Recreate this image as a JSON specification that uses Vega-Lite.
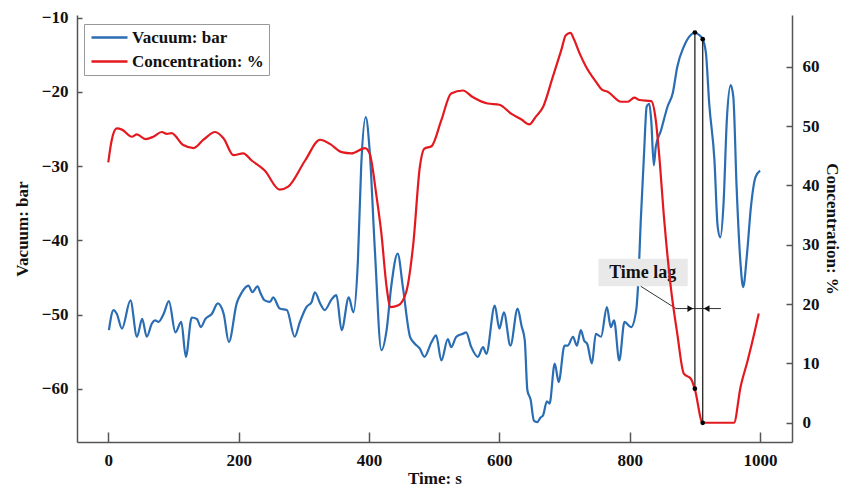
{
  "$schema": "https://vega.github.io/schema/vega-lite/v6.json",
  "width": 715,
  "height": 427,
  "autosize": "none",
  "padding": {"left": 77, "top": 15, "right": 49, "bottom": 44},
  "background": "white",
  "config": {
    "view": {"stroke": null},
    "axis": {
      "grid": false,
      "domainColor": "#555",
      "domainWidth": 1.5,
      "tickColor": "#555",
      "tickWidth": 1.5,
      "labelFont": "Liberation Serif",
      "labelFontWeight": "bold",
      "labelFontSize": 17,
      "labelColor": "#111",
      "titleFont": "Liberation Serif",
      "titleFontWeight": "bold",
      "titleFontSize": 17,
      "titleColor": "#111"
    },
    "legend": {
      "labelFont": "Liberation Serif",
      "labelFontWeight": "bold",
      "labelFontSize": 17,
      "labelColor": "#111"
    }
  },
  "datasets": {
    "vac": [
      {"t": 1, "v": -52.1}, {"t": 8, "v": -49.4}, {"t": 13, "v": -49.9}, {"t": 21, "v": -51.9},
      {"t": 34, "v": -48.1}, {"t": 44, "v": -53.0}, {"t": 52, "v": -50.6}, {"t": 59, "v": -53.0},
      {"t": 67, "v": -51.2}, {"t": 72, "v": -50.8}, {"t": 77, "v": -51.0}, {"t": 85, "v": -49.9},
      {"t": 93, "v": -48.2}, {"t": 103, "v": -52.4}, {"t": 112, "v": -51.0}, {"t": 119, "v": -55.7},
      {"t": 128, "v": -50.4}, {"t": 136, "v": -50.6}, {"t": 142, "v": -51.7}, {"t": 149, "v": -50.6},
      {"t": 159, "v": -49.9}, {"t": 168, "v": -48.5}, {"t": 177, "v": -49.9}, {"t": 185, "v": -53.7},
      {"t": 197, "v": -48.5}, {"t": 205, "v": -47.0}, {"t": 215, "v": -46.1}, {"t": 221, "v": -47.0},
      {"t": 229, "v": -46.2}, {"t": 233, "v": -47.0}, {"t": 240, "v": -48.1}, {"t": 248, "v": -48.3},
      {"t": 253, "v": -47.7}, {"t": 263, "v": -49.2}, {"t": 274, "v": -49.4}, {"t": 286, "v": -53.0},
      {"t": 294, "v": -51.0}, {"t": 304, "v": -49.0}, {"t": 312, "v": -48.3}, {"t": 317, "v": -47.0},
      {"t": 325, "v": -48.5}, {"t": 332, "v": -49.4}, {"t": 343, "v": -47.9}, {"t": 350, "v": -47.4},
      {"t": 358, "v": -52.1}, {"t": 369, "v": -47.7}, {"t": 376, "v": -49.7}, {"t": 383, "v": -42.7},
      {"t": 388, "v": -30.1}, {"t": 395, "v": -23.4}, {"t": 401, "v": -27.9}, {"t": 409, "v": -41.3},
      {"t": 419, "v": -54.8}, {"t": 427, "v": -52.1}, {"t": 434, "v": -46.3}, {"t": 444, "v": -41.8},
      {"t": 452, "v": -46.3}, {"t": 463, "v": -53.0}, {"t": 470, "v": -53.9}, {"t": 478, "v": -54.6},
      {"t": 485, "v": -55.7}, {"t": 496, "v": -53.7}, {"t": 503, "v": -52.8}, {"t": 511, "v": -56.2},
      {"t": 521, "v": -53.3}, {"t": 526, "v": -54.4}, {"t": 534, "v": -53.0}, {"t": 544, "v": -52.6},
      {"t": 549, "v": -52.4}, {"t": 557, "v": -54.4}, {"t": 567, "v": -55.7}, {"t": 575, "v": -54.4},
      {"t": 580, "v": -55.3}, {"t": 593, "v": -48.8}, {"t": 600, "v": -51.9}, {"t": 607, "v": -49.7},
      {"t": 617, "v": -54.2}, {"t": 628, "v": -49.2}, {"t": 634, "v": -51.5}, {"t": 639, "v": -53.5},
      {"t": 643, "v": -60.2}, {"t": 648, "v": -61.5}, {"t": 653, "v": -64.3}, {"t": 658, "v": -64.5},
      {"t": 663, "v": -63.9}, {"t": 667, "v": -63.6}, {"t": 673, "v": -61.7}, {"t": 677, "v": -62.0},
      {"t": 685, "v": -56.6}, {"t": 691, "v": -59.1}, {"t": 700, "v": -54.2}, {"t": 705, "v": -54.2},
      {"t": 713, "v": -53.0}, {"t": 719, "v": -54.2}, {"t": 725, "v": -52.1}, {"t": 730, "v": -53.5},
      {"t": 735, "v": -54.0}, {"t": 742, "v": -56.6}, {"t": 748, "v": -52.6}, {"t": 756, "v": -53.0},
      {"t": 765, "v": -49.0}, {"t": 771, "v": -51.7}, {"t": 776, "v": -50.8}, {"t": 784, "v": -56.2},
      {"t": 792, "v": -51.0}, {"t": 802, "v": -51.7}, {"t": 810, "v": -49.4}, {"t": 813, "v": -45.8},
      {"t": 817, "v": -37.3}, {"t": 822, "v": -28.3}, {"t": 826, "v": -22.0}, {"t": 830, "v": -21.6},
      {"t": 833, "v": -23.8}, {"t": 837, "v": -29.9}, {"t": 840, "v": -27.4}, {"t": 848, "v": -25.2},
      {"t": 858, "v": -22.0}, {"t": 866, "v": -20.2}, {"t": 873, "v": -16.6}, {"t": 883, "v": -13.9},
      {"t": 894, "v": -12.3}, {"t": 900, "v": -12.0}, {"t": 906, "v": -12.3}, {"t": 912, "v": -12.9},
      {"t": 917, "v": -14.8}, {"t": 922, "v": -21.6}, {"t": 930, "v": -29.2}, {"t": 935, "v": -38.2},
      {"t": 939, "v": -39.6}, {"t": 944, "v": -35.0}, {"t": 949, "v": -23.8}, {"t": 955, "v": -19.1},
      {"t": 959, "v": -20.7}, {"t": 964, "v": -32.8}, {"t": 970, "v": -43.1}, {"t": 974, "v": -46.3},
      {"t": 980, "v": -41.8}, {"t": 986, "v": -35.5}, {"t": 993, "v": -31.5}, {"t": 1000, "v": -30.6}
    ],
    "conc": [
      {"t": 0, "c": 43.9}, {"t": 5, "c": 47.5}, {"t": 13, "c": 49.6}, {"t": 21, "c": 49.4},
      {"t": 36, "c": 48.2}, {"t": 44, "c": 48.6}, {"t": 57, "c": 47.8}, {"t": 69, "c": 48.2},
      {"t": 82, "c": 49.0}, {"t": 90, "c": 48.7}, {"t": 97, "c": 48.8}, {"t": 115, "c": 46.8},
      {"t": 131, "c": 46.3}, {"t": 146, "c": 47.7}, {"t": 164, "c": 49.0}, {"t": 177, "c": 47.9},
      {"t": 192, "c": 45.1}, {"t": 207, "c": 45.4}, {"t": 220, "c": 44.2}, {"t": 240, "c": 42.5},
      {"t": 263, "c": 39.3}, {"t": 276, "c": 39.8}, {"t": 302, "c": 44.2}, {"t": 325, "c": 47.7},
      {"t": 340, "c": 47.0}, {"t": 358, "c": 45.6}, {"t": 373, "c": 45.4}, {"t": 394, "c": 46.3},
      {"t": 401, "c": 45.4}, {"t": 411, "c": 38.6}, {"t": 419, "c": 31.9}, {"t": 427, "c": 22.9},
      {"t": 433, "c": 19.5}, {"t": 445, "c": 19.8}, {"t": 457, "c": 22.0}, {"t": 468, "c": 30.2},
      {"t": 478, "c": 43.1}, {"t": 485, "c": 46.2}, {"t": 496, "c": 46.6}, {"t": 511, "c": 51.0},
      {"t": 526, "c": 55.5}, {"t": 544, "c": 56.0}, {"t": 559, "c": 54.9}, {"t": 582, "c": 53.8},
      {"t": 600, "c": 53.6}, {"t": 618, "c": 52.1}, {"t": 634, "c": 51.1}, {"t": 646, "c": 50.3},
      {"t": 656, "c": 51.6}, {"t": 667, "c": 53.2}, {"t": 682, "c": 58.3}, {"t": 695, "c": 62.8},
      {"t": 702, "c": 65.3}, {"t": 709, "c": 65.7}, {"t": 715, "c": 64.5}, {"t": 723, "c": 62.3},
      {"t": 733, "c": 60.0}, {"t": 748, "c": 57.5}, {"t": 758, "c": 56.1}, {"t": 766, "c": 55.8},
      {"t": 787, "c": 54.1}, {"t": 797, "c": 54.1}, {"t": 807, "c": 54.8}, {"t": 815, "c": 54.4},
      {"t": 833, "c": 54.2}, {"t": 840, "c": 51.0}, {"t": 845, "c": 45.4}, {"t": 853, "c": 34.1},
      {"t": 863, "c": 22.9}, {"t": 873, "c": 15.0}, {"t": 883, "c": 8.3}, {"t": 894, "c": 7.4},
      {"t": 900, "c": 5.6}, {"t": 912, "c": 0.0}, {"t": 960, "c": 0.0}, {"t": 970, "c": 6.0},
      {"t": 981, "c": 10.5}, {"t": 991, "c": 15.0}, {"t": 998, "c": 18.4}
    ],
    "vlines": [
      {"t": 900, "v": -12.0, "v2": -60.0},
      {"t": 912, "v": -12.9, "v2": -64.6}
    ],
    "dots": [
      {"t": 900, "v": -12.0}, {"t": 912, "v": -12.9}, {"t": 900, "v": -60.0}, {"t": 912, "v": -64.6}
    ],
    "box": [{"t": 752, "t2": 889, "v": -42.5, "v2": -46.2, "label": "Time lag", "tm": 820, "vm": -44.35}],
    "leader": [{"t": 817, "t2": 871, "v": -46.2, "v2": -49.2}],
    "hline": [{"t": 871, "t2": 940, "v": -49.2}],
    "arrows": [{"t": 893, "v": -49.2, "shape": "triangle-right"}, {"t": 918, "v": -49.2, "shape": "triangle-left"}]
  },
  "layer": [
    {
      "layer": [
        {
          "data": {"name": "vac"},
          "mark": {"type": "line", "strokeWidth": 2.2, "interpolate": "monotone"},
          "encoding": {
            "x": {"field": "t", "type": "quantitative", "scale": {"domain": [-48, 1049], "nice": false, "zero": false},
                  "axis": {"values": [0, 200, 400, 600, 800, 1000], "format": "d", "title": "Time: s", "tickSize": -10, "labelPadding": 20, "titlePadding": 2}},
            "y": {"field": "v", "type": "quantitative", "scale": {"domain": [-67.18, -9.64], "nice": false, "zero": false},
                  "axis": {"orient": "left", "values": [-60, -50, -40, -30, -20, -10], "title": "Vacuum: bar", "tickSize": -5, "labelPadding": 14, "titlePadding": 10}},
            "color": {"datum": "Vacuum: bar", "type": "nominal",
                      "scale": {"domain": ["Vacuum: bar", "Concentration: %"], "range": ["#2a6db3", "#e3191f"]},
                      "legend": {"title": null, "orient": "none", "legendX": 7, "legendY": 9, "strokeColor": "#999", "fillColor": "white", "padding": 5,
                                 "symbolType": "M-3,0H3", "symbolSize": 144, "symbolStrokeWidth": 2.4, "symbolOffset": 12, "labelOffset": 14, "rowPadding": 6}}
          }
        },
        {
          "data": {"name": "box"},
          "mark": {"type": "rect", "fill": "#e9e9e9"},
          "encoding": {"x": {"field": "t", "type": "quantitative"}, "x2": {"field": "t2"}, "y": {"field": "v", "type": "quantitative"}, "y2": {"field": "v2"}}
        },
        {
          "data": {"name": "box"},
          "mark": {"type": "text", "font": "Liberation Serif", "fontWeight": "bold", "fontSize": 18, "color": "#111"},
          "encoding": {"x": {"field": "tm", "type": "quantitative"}, "y": {"field": "vm", "type": "quantitative"}, "text": {"field": "label"}}
        },
        {
          "data": {"name": "leader"},
          "mark": {"type": "rule", "color": "#333", "strokeWidth": 1},
          "encoding": {"x": {"field": "t", "type": "quantitative"}, "x2": {"field": "t2"}, "y": {"field": "v", "type": "quantitative"}, "y2": {"field": "v2"}}
        },
        {
          "data": {"name": "hline"},
          "mark": {"type": "rule", "color": "#333", "strokeWidth": 1},
          "encoding": {"x": {"field": "t", "type": "quantitative"}, "x2": {"field": "t2"}, "y": {"field": "v", "type": "quantitative"}}
        },
        {
          "data": {"name": "vlines"},
          "mark": {"type": "rule", "color": "#222", "strokeWidth": 1.3},
          "encoding": {"x": {"field": "t", "type": "quantitative"}, "y": {"field": "v", "type": "quantitative"}, "y2": {"field": "v2"}}
        },
        {
          "data": {"name": "arrows"},
          "mark": {"type": "point", "filled": true, "color": "#111", "size": 45, "opacity": 1},
          "encoding": {"x": {"field": "t", "type": "quantitative"}, "y": {"field": "v", "type": "quantitative"},
                       "shape": {"field": "shape", "type": "nominal", "scale": null}}
        }
      ]
    },
    {
      "data": {"name": "conc"},
      "mark": {"type": "line", "strokeWidth": 2.2, "interpolate": "monotone"},
      "encoding": {
        "x": {"field": "t", "type": "quantitative"},
        "y": {"field": "c", "type": "quantitative", "scale": {"domain": [-3.24, 68.72], "nice": false, "zero": false},
              "axis": {"orient": "right", "values": [0, 10, 20, 30, 40, 50, 60], "title": "Concentration: %", "tickSize": -6, "labelPadding": 16, "titlePadding": 3}},
        "color": {"datum": "Concentration: %", "type": "nominal"}
      }
    },
    {
      "data": {"name": "dots"},
      "mark": {"type": "point", "filled": true, "color": "#000", "size": 22, "opacity": 1},
      "encoding": {"x": {"field": "t", "type": "quantitative"}, "y": {"field": "v", "type": "quantitative", "scale": {"domain": [-67.18, -9.64], "nice": false, "zero": false}, "axis": null}}
    }
  ],
  "resolve": {"scale": {"y": "independent"}}
}
